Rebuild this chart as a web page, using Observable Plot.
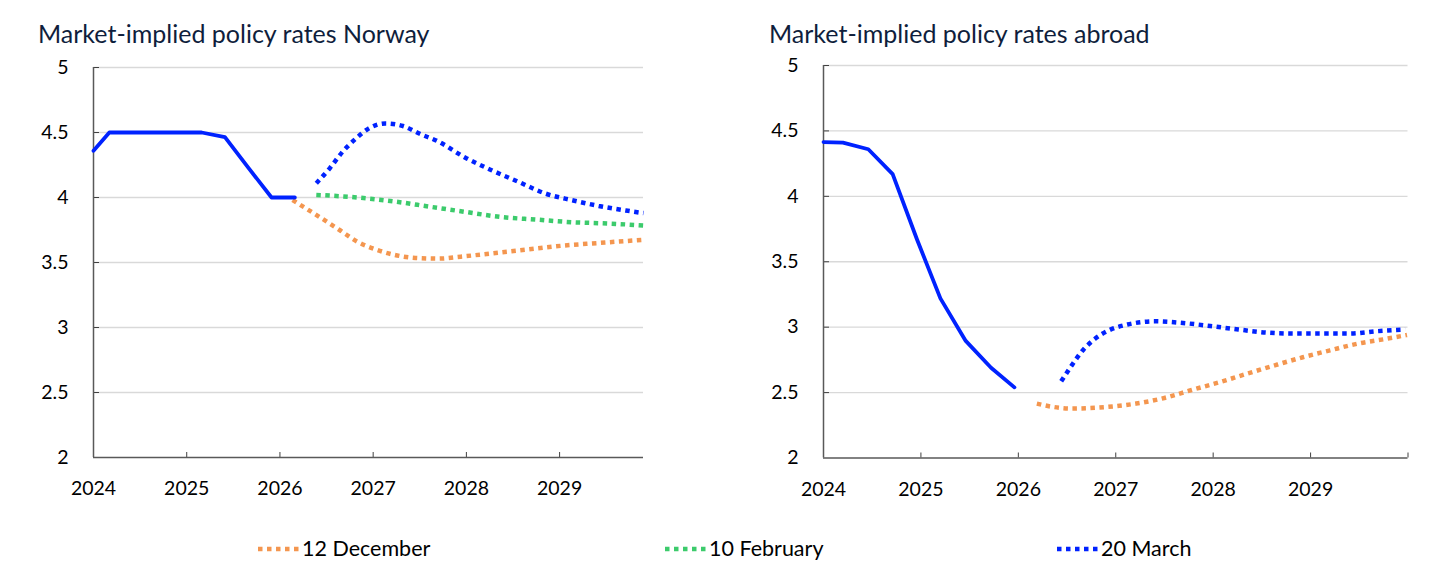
<!DOCTYPE html>
<html>
<head>
<meta charset="utf-8">
<script src="https://cdn.jsdelivr.net/npm/d3@7"></script>
<script src="https://cdn.jsdelivr.net/npm/@observablehq/plot@0.6"></script>
<style>
  html, body { margin: 0; padding: 0; background: #fff; }
  #root { position: relative; width: 1445px; height: 577px; font-family: Lato, "Open Sans", sans-serif; }
  .title { position: absolute; font-size: 25px; color: #0f1e3c; white-space: nowrap; line-height: 1; }
  .panel { position: absolute; }
  .legend-item { position: absolute; top: 538px; font-size: 21.5px; color: #000; display: flex; align-items: center; white-space: nowrap; line-height: 1; }
  .legend-item svg { margin-right: 1px; }
</style>
</head>
<body>
<div id="root"></div>
<script>
// ---------- Data ----------
const yTicks = [2, 2.5, 3, 3.5, 4, 4.5, 5];
const yearLabels = [2024, 2025, 2026, 2027, 2028, 2029];
const seriesNames = ["12 December", "10 February", "20 March"];
const seriesColors = ["#f4964f", "#3ccb6c", "#0022ff"];

// Norway
const noDomain = [2024, 2029.9];
const noTickMarks = [2025, 2026, 2027, 2028, 2029];
const noActualX = [2024.0, 2024.17, 2025.16, 2025.41, 2025.66, 2025.91, 2026.16];
const noActualY = [4.36, 4.5, 4.5, 4.465, 4.23, 4.0, 4.0];
const noDecX = [2026.135, 2026.425, 2026.64, 2026.83, 2027.03, 2027.22, 2027.455, 2027.70, 2027.94, 2028.27, 2028.66, 2029.04, 2029.42, 2029.90];
const noDecY = [3.98, 3.85, 3.75, 3.66, 3.60, 3.56, 3.535, 3.53, 3.545, 3.57, 3.60, 3.63, 3.65, 3.675];
const noFebX = [2026.39, 2026.83, 2027.22, 2027.60, 2027.98, 2028.37, 2028.75, 2029.13, 2029.52, 2029.90];
const noFebY = [4.02, 4.0, 3.97, 3.93, 3.89, 3.85, 3.83, 3.81, 3.80, 3.785];
const noMarX = [2026.39, 2026.54, 2026.67, 2026.81, 2026.95, 2027.13, 2027.32, 2027.50, 2027.70, 2027.98, 2028.27, 2028.56, 2028.85, 2029.13, 2029.42, 2029.71, 2029.90];
const noMarY = [4.11, 4.23, 4.35, 4.45, 4.53, 4.57, 4.55, 4.49, 4.43, 4.31, 4.21, 4.12, 4.03, 3.98, 3.935, 3.90, 3.88];

// Abroad
const abDomain = [2024, 2030];
const abTickMarks = [2025, 2026, 2027, 2028, 2029, 2030];
const abActualX = [2024.0, 2024.20, 2024.46, 2024.71, 2024.96, 2025.20, 2025.46, 2025.72, 2025.96];
const abActualY = [4.415, 4.41, 4.36, 4.17, 3.67, 3.22, 2.895, 2.69, 2.54];
const abDecX = [2026.19, 2026.36, 2026.55, 2026.74, 2026.98, 2027.21, 2027.50, 2027.78, 2028.07, 2028.35, 2028.64, 2028.92, 2029.20, 2029.49, 2029.77, 2029.99];
const abDecY = [2.416, 2.39, 2.378, 2.382, 2.395, 2.416, 2.459, 2.52, 2.58, 2.645, 2.71, 2.77, 2.823, 2.875, 2.91, 2.94];
const abMarX = [2026.44, 2026.55, 2026.67, 2026.79, 2026.93, 2027.12, 2027.40, 2027.69, 2027.97, 2028.26, 2028.54, 2028.83, 2029.11, 2029.40, 2029.68, 2029.97];
const abMarY = [2.586, 2.71, 2.83, 2.913, 2.976, 3.02, 3.045, 3.032, 3.009, 2.982, 2.959, 2.951, 2.951, 2.951, 2.969, 2.982];

// ---------- Helpers ----------
const zip = (xs, ys) => xs.map((x, i) => ({x, y: ys[i]}));
const dash = {strokeWidth: 4.5, strokeDasharray: "4.5,4.5", strokeLinecap: "butt", curve: "monotone-x"};

function panel({domain, tickMarks, actual, forecasts, size, margins}) {
  const [ml, mr, mt, mb] = margins;
  return Plot.plot({
    width: size[0], height: size[1],
    marginLeft: ml, marginRight: mr, marginTop: mt, marginBottom: mb,
    style: {fontFamily: "Lato, 'Open Sans', sans-serif", fontSize: "19.5px", color: "#000", background: "#fff"},
    x: {domain, type: "linear"},
    y: {domain: [yTicks[0], yTicks[yTicks.length - 1]]},
    marks: [
      Plot.gridY(yTicks.slice(1), {stroke: "#d9d9d9", strokeOpacity: 1, strokeWidth: 1.3}),
      Plot.axisY(yTicks, {tickSize: 0, tickPadding: 25, tickFormat: d => String(d), label: null}),
      Plot.axisY(yTicks.slice(1), {tickSize: -6, fill: "none", stroke: "#404040", label: null}),
      Plot.axisX(yearLabels, {tickSize: 0, tickPadding: 24, tickFormat: d => String(d), label: null}),
      Plot.axisX(tickMarks, {tickSize: -5, fill: "none", stroke: "#404040", label: null}),
      Plot.ruleX([domain[0]], {stroke: "#595959", strokeWidth: 1.5}),
      Plot.ruleY([yTicks[0]], {stroke: "#595959", strokeWidth: 1.5}),
      ...forecasts.map(f => Plot.line(f.data, {x: "x", y: "y", stroke: f.color, ...dash})),
      Plot.line(actual, {x: "x", y: "y", stroke: seriesColors[2], strokeWidth: 3.8, strokeLinejoin: "round"})
    ]
  });
}

const root = document.getElementById("root");

function addTitle(text, left, top) {
  const t = document.createElement("div");
  t.className = "title";
  t.textContent = text;
  t.style.left = left + "px";
  t.style.top = top + "px";
  root.appendChild(t);
}

addTitle("Market-implied policy rates Norway", 38, 21);
addTitle("Market-implied policy rates abroad", 769, 21);

const left = document.createElement("div");
left.className = "panel";
left.style.left = "0px"; left.style.top = "50px";
left.appendChild(panel({
  domain: noDomain, tickMarks: noTickMarks,
  actual: zip(noActualX, noActualY),
  forecasts: [
    {data: zip(noDecX, noDecY), color: seriesColors[0]},
    {data: zip(noFebX, noFebY), color: seriesColors[1]},
    {data: zip(noMarX, noMarY), color: seriesColors[2]}
  ],
  size: [680, 470], margins: [93, 37, 17, 63]
}));
root.appendChild(left);

const right = document.createElement("div");
right.className = "panel";
right.style.left = "720px"; right.style.top = "50px";
right.appendChild(panel({
  domain: abDomain, tickMarks: abTickMarks,
  actual: zip(abActualX, abActualY),
  forecasts: [
    {data: zip(abDecX, abDecY), color: seriesColors[0]},
    {data: zip(abMarX, abMarY), color: seriesColors[2]}
  ],
  size: [725, 470], margins: [103, 37.5, 15, 62.5]
}));
root.appendChild(right);

// Legend
const legendLeft = [258, 665, 1057];
seriesNames.forEach((name, i) => {
  const item = document.createElement("div");
  item.className = "legend-item";
  item.style.left = legendLeft[i] + "px";
  item.innerHTML = `<svg width="43" height="22"><line x1="0" y1="11" x2="43" y2="11" stroke="${seriesColors[i]}" stroke-width="4.5" stroke-dasharray="4.5,4.5"/></svg><span>${name}</span>`;
  root.appendChild(item);
});
</script>
</body>
</html>
